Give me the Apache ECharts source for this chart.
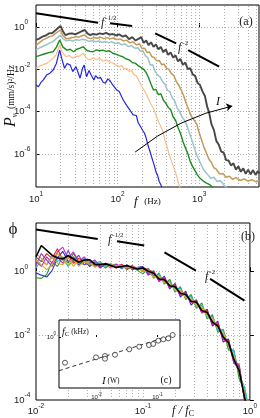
<!DOCTYPE html>
<html>
<head>
<meta charset="utf-8">
<script src="https://cdn.jsdelivr.net/npm/echarts@6/dist/echarts.min.js"></script>
<style>
  html, body { margin: 0; padding: 0; background: #fff; }
  #chart { width: 260px; height: 418px; }
</style>
</head>
<body>
<div id="chart"></div>
<script>
// all values are log10 of the plotted quantity
// panel (a): [log10 f(Hz), log10 P]
var specDark = [[1.00,-0.61],[1.04,-0.55],[1.08,-0.45],[1.12,-0.40],[1.16,-0.30],[1.20,-0.28],[1.24,-0.15],[1.27,-0.05],[1.30,0.05],[1.33,-0.20],[1.36,-0.38],[1.40,-0.32],[1.44,-0.30],[1.48,-0.35],[1.52,-0.28],[1.56,-0.20],[1.60,-0.14],[1.63,-0.30],[1.66,-0.38],[1.70,-0.33],[1.74,-0.36],[1.78,-0.30],[1.82,-0.34],[1.86,-0.28],[1.90,-0.36],[1.94,-0.33],[1.98,-0.40],[2.02,-0.35],[2.06,-0.45],[2.10,-0.40],[2.14,-0.57],[2.18,-0.48],[2.22,-0.64],[2.26,-0.55],[2.29,-0.48],[2.32,-0.75],[2.35,-0.64],[2.38,-0.86],[2.41,-0.72],[2.44,-0.94],[2.47,-0.82],[2.50,-1.06],[2.53,-0.94],[2.56,-1.19],[2.59,-1.06],[2.62,-1.32],[2.65,-1.20],[2.68,-1.44],[2.71,-1.34],[2.74,-1.62],[2.77,-1.51],[2.80,-1.79],[2.83,-1.68],[2.86,-1.99],[2.89,-1.94],[2.92,-2.24],[2.95,-2.31],[2.98,-2.64],[3.01,-2.74],[3.04,-3.04],[3.07,-3.26],[3.10,-3.80],[3.12,-4.01],[3.15,-4.59],[3.18,-4.86],[3.21,-5.38],[3.24,-5.56],[3.27,-5.89],[3.30,-5.93],[3.33,-6.29],[3.36,-6.31],[3.39,-6.54],[3.42,-6.44],[3.45,-6.74],[3.48,-6.58],[3.51,-6.84],[3.54,-6.68],[3.57,-6.94],[3.60,-6.74],[3.63,-6.96],[3.66,-6.76],[3.69,-6.99],[3.72,-6.81],[3.74,-6.92]];
var specTan = [[1.00,-0.85],[1.04,-0.75],[1.08,-0.62],[1.12,-0.55],[1.16,-0.46],[1.20,-0.42],[1.24,-0.30],[1.27,-0.22],[1.30,-0.14],[1.33,-0.40],[1.37,-0.55],[1.41,-0.53],[1.45,-0.50],[1.49,-0.45],[1.53,-0.48],[1.57,-0.40],[1.60,-0.38],[1.63,-0.50],[1.67,-0.55],[1.71,-0.50],[1.75,-0.53],[1.79,-0.48],[1.83,-0.55],[1.87,-0.50],[1.91,-0.56],[1.95,-0.52],[1.99,-0.60],[2.03,-0.56],[2.07,-0.66],[2.11,-0.62],[2.15,-0.75],[2.19,-0.70],[2.23,-0.84],[2.27,-0.80],[2.30,-1.02],[2.33,-1.00],[2.36,-1.20],[2.39,-1.18],[2.42,-1.40],[2.45,-1.45],[2.48,-1.60],[2.51,-1.58],[2.54,-1.78],[2.57,-1.75],[2.60,-1.95],[2.63,-2.00],[2.66,-2.20],[2.69,-2.30],[2.72,-2.58],[2.75,-2.75],[2.78,-2.98],[2.81,-3.25],[2.84,-3.60],[2.87,-3.90],[2.90,-4.20],[2.93,-4.35],[2.97,-4.60],[3.00,-5.00],[3.03,-5.34],[3.06,-5.70],[3.09,-5.97],[3.12,-6.25],[3.15,-6.40],[3.18,-6.65],[3.21,-6.72],[3.25,-6.95],[3.29,-6.92],[3.33,-7.10],[3.37,-7.05],[3.41,-7.20],[3.45,-7.12],[3.50,-7.25],[3.55,-7.18],[3.60,-7.28],[3.65,-7.22],[3.70,-7.32],[3.74,-7.26]];
var specLightBlue = [[1.00,-1.09],[1.04,-1.00],[1.08,-0.92],[1.12,-0.85],[1.16,-0.77],[1.20,-0.70],[1.24,-0.58],[1.27,-0.48],[1.30,-0.38],[1.33,-0.55],[1.37,-0.65],[1.41,-0.61],[1.45,-0.66],[1.49,-0.60],[1.53,-0.63],[1.57,-0.58],[1.61,-0.61],[1.65,-0.68],[1.69,-0.64],[1.73,-0.70],[1.77,-0.66],[1.81,-0.72],[1.85,-0.68],[1.89,-0.74],[1.93,-0.70],[1.97,-0.78],[2.01,-0.74],[2.05,-0.84],[2.09,-0.80],[2.13,-0.92],[2.17,-0.88],[2.21,-1.00],[2.25,-0.98],[2.28,-1.15],[2.31,-1.12],[2.34,-1.35],[2.37,-1.45],[2.40,-1.80],[2.43,-1.78],[2.46,-2.10],[2.49,-2.27],[2.52,-2.35],[2.55,-2.58],[2.58,-2.70],[2.61,-2.98],[2.64,-3.05],[2.67,-3.35],[2.70,-3.50],[2.73,-3.82],[2.76,-4.00],[2.79,-4.25],[2.82,-4.40],[2.85,-4.65],[2.88,-5.00],[2.91,-5.34],[2.94,-5.70],[2.97,-6.05],[3.00,-6.30],[3.03,-6.55],[3.06,-6.78],[3.10,-6.95],[3.14,-7.15],[3.18,-7.10],[3.22,-7.30],[3.26,-7.25],[3.30,-7.45],[3.34,-7.60]];
var specGreen = [[1.00,-1.40],[1.04,-1.35],[1.08,-1.30],[1.13,-1.24],[1.17,-1.20],[1.21,-1.17],[1.25,-0.95],[1.29,-0.61],[1.33,-0.95],[1.38,-1.09],[1.42,-1.05],[1.46,-1.17],[1.50,-1.05],[1.54,-1.00],[1.58,-0.93],[1.62,-1.10],[1.66,-1.15],[1.70,-1.17],[1.74,-1.08],[1.78,-1.12],[1.82,-1.09],[1.86,-1.15],[1.90,-1.12],[1.94,-1.24],[1.98,-1.28],[2.02,-1.35],[2.06,-1.40],[2.10,-1.50],[2.12,-1.44],[2.14,-1.55],[2.18,-1.68],[2.20,-1.60],[2.22,-1.72],[2.26,-1.85],[2.29,-1.92],[2.32,-2.00],[2.35,-2.15],[2.38,-2.40],[2.41,-2.70],[2.44,-2.98],[2.47,-2.95],[2.50,-3.20],[2.53,-3.15],[2.56,-3.45],[2.59,-3.60],[2.62,-3.80],[2.65,-3.90],[2.68,-4.24],[2.71,-4.40],[2.74,-4.75],[2.77,-5.02],[2.80,-5.40],[2.83,-5.70],[2.86,-5.97],[2.89,-6.35],[2.92,-6.60],[2.95,-6.80],[2.98,-7.00],[3.01,-7.15],[3.05,-7.28],[3.09,-7.38],[3.13,-7.45],[3.17,-7.60]];
var specPeach = [[1.00,-1.95],[1.04,-1.85],[1.09,-1.78],[1.13,-1.72],[1.17,-1.60],[1.21,-1.48],[1.25,-1.30],[1.29,-0.85],[1.33,-1.25],[1.37,-1.40],[1.41,-1.35],[1.45,-1.48],[1.49,-1.40],[1.53,-1.38],[1.58,-1.24],[1.62,-1.48],[1.66,-1.56],[1.70,-1.45],[1.74,-1.55],[1.78,-1.48],[1.82,-1.62],[1.86,-1.55],[1.90,-1.64],[1.94,-1.70],[1.98,-1.80],[2.02,-1.87],[2.05,-1.82],[2.08,-1.98],[2.11,-1.95],[2.14,-2.10],[2.17,-2.05],[2.20,-2.25],[2.23,-2.30],[2.26,-2.55],[2.29,-2.75],[2.32,-2.95],[2.35,-3.15],[2.38,-3.40],[2.41,-3.65],[2.44,-3.85],[2.47,-4.15],[2.50,-4.45],[2.53,-4.70],[2.56,-5.00],[2.58,-5.34],[2.60,-5.60],[2.62,-5.85],[2.64,-6.10],[2.66,-6.35],[2.68,-6.55],[2.70,-6.75],[2.72,-7.00],[2.74,-7.30],[2.76,-7.55],[2.78,-7.70]];
var specBlue = [[1.00,-2.74],[1.03,-2.82],[1.06,-2.62],[1.09,-2.50],[1.13,-2.27],[1.17,-2.18],[1.21,-2.03],[1.25,-1.72],[1.29,-1.09],[1.32,-1.55],[1.35,-1.95],[1.38,-1.72],[1.42,-1.80],[1.45,-2.11],[1.49,-1.87],[1.52,-2.20],[1.54,-2.42],[1.57,-1.95],[1.59,-1.80],[1.62,-2.35],[1.65,-2.05],[1.68,-2.30],[1.71,-2.50],[1.73,-2.30],[1.76,-2.42],[1.79,-2.38],[1.82,-2.60],[1.85,-2.66],[1.88,-2.45],[1.91,-2.55],[1.94,-2.74],[1.96,-2.65],[1.99,-2.98],[2.02,-3.05],[2.05,-3.30],[2.07,-3.45],[2.09,-3.38],[2.11,-3.70],[2.13,-3.62],[2.15,-3.92],[2.17,-3.88],[2.19,-4.15],[2.21,-4.24],[2.23,-4.18],[2.25,-4.50],[2.27,-4.63],[2.29,-4.55],[2.31,-4.90],[2.33,-5.02],[2.35,-5.25],[2.37,-5.55],[2.39,-5.80],[2.41,-6.05],[2.43,-6.30],[2.45,-6.55],[2.47,-6.85],[2.49,-7.00],[2.51,-7.30],[2.53,-7.45],[2.55,-7.70]];

// panel (b): log10(f/fc) shared by all curves, log10 phi per curve
var phiX = [-2.00,-1.95,-1.90,-1.85,-1.80,-1.75,-1.70,-1.65,-1.60,-1.55,-1.50,-1.45,-1.40,-1.35,-1.30,-1.25,-1.20,-1.15,-1.10,-1.05,-1.00,-0.95,-0.90,-0.85,-0.80,-0.75,-0.70,-0.65,-0.60,-0.55,-0.50,-0.45,-0.40,-0.35,-0.30,-0.25,-0.20,-0.15,-0.10,-0.05,0.00];
var phiBlue    = [-0.05,-0.12,-0.18,0.02,0.40,0.62,0.30,0.45,0.20,0.35,0.15,0.28,0.10,0.25,0.12,0.22,0.08,0.20,0.05,0.12,0.15,-0.12,0.02,-0.32,-0.15,-0.55,-0.38,-0.80,-0.62,-1.05,-0.88,-1.30,-1.18,-1.70,-1.55,-2.20,-2.10,-2.85,-2.95,-4.00,-4.60];
var phiGreen   = [-0.20,-0.22,-0.10,0.30,0.15,0.45,0.25,0.55,0.30,0.20,0.32,0.15,0.25,0.10,0.22,0.12,0.20,0.05,0.15,0.02,-0.08,0.10,-0.22,-0.05,-0.40,-0.25,-0.65,-0.48,-0.88,-0.72,-1.15,-0.98,-1.48,-1.35,-1.90,-1.80,-2.45,-2.45,-3.35,-3.70,-4.40];
var phiRed     = [0.45,0.30,0.55,0.40,0.70,0.35,0.50,0.25,0.40,0.30,0.18,0.30,0.12,0.25,0.20,0.10,0.22,0.08,0.15,0.10,0.12,0.05,-0.02,-0.28,-0.20,-0.50,-0.42,-0.72,-0.66,-0.95,-0.92,-1.25,-1.22,-1.62,-1.60,-2.10,-2.15,-2.78,-2.90,-4.05,-4.50];
var phiCyan    = [0.10,0.35,0.20,0.50,0.30,0.40,0.15,0.35,0.25,0.40,0.20,0.25,0.30,0.15,0.20,0.22,0.10,0.18,0.08,0.12,-0.02,0.08,-0.20,-0.10,-0.38,-0.30,-0.62,-0.52,-0.85,-0.78,-1.12,-1.05,-1.42,-1.40,-1.85,-1.82,-2.35,-2.50,-3.20,-3.60,-4.40];
var phiMagenta = [0.30,0.15,0.45,0.25,0.60,0.75,0.40,0.60,0.30,0.45,0.28,0.18,0.25,0.20,0.10,0.22,0.15,0.12,0.18,0.05,0.10,-0.08,-0.05,-0.30,-0.22,-0.52,-0.45,-0.75,-0.70,-0.98,-0.95,-1.28,-1.25,-1.65,-1.65,-2.12,-2.22,-2.85,-3.05,-3.95,-4.50];
var phiOrange  = [0.55,0.40,0.20,0.45,0.25,0.20,0.45,0.15,0.35,0.28,0.30,0.12,0.22,0.18,0.25,0.10,0.18,0.15,0.08,0.10,0.00,0.02,-0.15,-0.18,-0.35,-0.36,-0.58,-0.58,-0.82,-0.83,-1.08,-1.10,-1.38,-1.45,-1.78,-1.90,-2.30,-2.62,-3.10,-3.80,-4.50];
var phiPurple  = [0.20,0.55,0.35,0.15,0.45,0.25,0.65,0.30,0.50,0.20,0.25,0.35,0.15,0.20,0.15,0.18,0.12,0.16,0.10,0.06,0.08,-0.05,-0.12,-0.22,-0.30,-0.44,-0.50,-0.68,-0.74,-0.92,-1.00,-1.20,-1.30,-1.55,-1.70,-2.00,-2.20,-2.70,-3.00,-3.90,-4.50];
var phiYellow  = [0.35,0.20,0.05,0.20,0.55,0.35,0.20,0.40,0.15,0.30,0.22,0.25,0.18,0.22,0.12,0.18,0.16,0.10,0.14,0.08,0.02,0.00,-0.18,-0.14,-0.34,-0.40,-0.56,-0.62,-0.80,-0.88,-1.05,-1.15,-1.36,-1.50,-1.76,-1.95,-2.28,-2.66,-3.18,-3.85,-4.50];
var phiBlack   = [0.45,0.80,0.65,0.50,0.42,0.38,0.49,0.38,0.28,0.35,0.36,0.22,0.20,0.23,0.18,0.12,0.15,0.18,0.12,0.07,0.10,0.00,-0.06,-0.24,-0.26,-0.45,-0.48,-0.68,-0.72,-0.93,-0.96,-1.22,-1.28,-1.58,-1.70,-2.04,-2.22,-2.74,-3.10,-3.92,-4.50];

// inset (c): log10 I (W), log10 fc (kHz)
var insetI  = [-2.517,-2.008,-1.861,-1.861,-1.697,-1.463,-1.299,-1.140,-1.069,-0.987,-0.905,-0.823,-0.751];
var insetFc = [-0.857,-0.677,-0.633,-0.723,-0.590,-0.410,-0.323,-0.267,-0.233,-0.123,-0.077,-0.043,0.067];
var insetFit = [[-2.615,-1.123],[-0.751,0.067]];

// guide lines (log-log coordinates)
var slopeA1 = [[[1.0,0.648],[1.761,0.203]],[[1.908,0.175],[2.178,0.047]]];
var slopeA2 = [[[2.46,-0.298],[2.718,-0.771]],[[2.865,-1.087],[3.245,-1.877]]];
var slopeB1 = [[[-2.0,1.295],[-1.423,1.006]],[[-1.243,0.93],[-0.988,0.80]]];
var slopeB2 = [[[-0.799,0.59],[-0.505,0.02]],[[-0.372,-0.236],[-0.051,-0.91]]];
var arrowA = [[2.215,-5.91],[3.405,-3.735]];

var ticksAx = [1, 2, 3], ticksAy = [-6, -4, -2, 0];
var ticksBx = [-2, -1, 0], ticksBy = [-4, -2, 0];
var ticksCx = [-2, -1], ticksCy = [0];
var minorMult = [1, 2, 3, 4, 5, 6, 7, 8, 9];

var sans = 'Liberation Sans, Arial, sans-serif';
var serif = 'Liberation Serif, Times New Roman, serif';

var chart = echarts.init(document.getElementById('chart'));

var axA = {xmin: 1, xmax: 3.733, ymin: -7.56, ymax: 1.04};
var axB = {xmin: -2, xmax: 0, ymin: -4, ymax: 1.5};

function gridLines(ax, decades, hlines) {
  var out = [];
  decades.forEach(function (d) {
    minorMult.forEach(function (k) {
      var v = d + Math.log10(k);
      if (v > ax.xmin + 1e-6 && v < ax.xmax - 1e-6) out.push({coords: [[v, ax.ymin], [v, ax.ymax]]});
    });
  });
  hlines.forEach(function (h) { out.push({coords: [[ax.xmin, h], [ax.xmax, h]]}); });
  return out;
}

function powRich(b, s, pad) {
  return {
    b: {fontSize: b, fontFamily: sans, color: '#222'},
    s: {fontSize: s, fontFamily: sans, color: '#222', padding: [0, 0, pad, 0]}
  };
}
function powFmt(v) { return '{b|10}{s|' + Math.round(v) + '}'; }

function xAx(gi, ax, ticks, margin, rich) {
  return {
    type: 'value', gridIndex: gi, min: ax.xmin, max: ax.xmax,
    axisLine: {show: false}, splitLine: {show: false},
    axisTick: {inside: true, length: 4, customValues: ticks, lineStyle: {color: '#000'}},
    axisLabel: {customValues: ticks, formatter: powFmt, rich: rich, margin: margin}
  };
}
function yAx(gi, ax, ticks, margin, rich) {
  return {
    type: 'value', gridIndex: gi, min: ax.ymin, max: ax.ymax,
    axisLine: {show: false}, splitLine: {show: false},
    axisTick: {inside: true, length: 4, customValues: ticks, lineStyle: {color: '#000'}},
    axisLabel: {customValues: ticks, formatter: powFmt, rich: rich, margin: margin, align: 'left'}
  };
}

function curve(data, color, xi, width) {
  return {
    type: 'line', xAxisIndex: xi, yAxisIndex: xi, data: data, symbol: 'none',
    lineStyle: {color: color, width: width || 1}, z: 2, silent: true
  };
}
function phiCurve(vals, color, width) {
  return curve(phiX.map(function (x, i) { return [x, vals[i]]; }), color, 1, width);
}
function guide(segs, xi) {
  return {
    type: 'lines', coordinateSystem: 'cartesian2d', xAxisIndex: xi, yAxisIndex: xi,
    data: segs.map(function (s) { return {coords: s}; }),
    lineStyle: {color: '#000', width: 2, opacity: 1}, z: 3, silent: true
  };
}
function dotted(data, xi) {
  return {
    type: 'lines', coordinateSystem: 'cartesian2d', xAxisIndex: xi, yAxisIndex: xi,
    data: data, lineStyle: {color: '#9a9a9a', width: 0.8, type: [1, 2], opacity: 1}, z: 1, silent: true
  };
}

function txt(x, y, text, rich, align, rot) {
  return {
    type: 'text', x: x, y: y, rotation: rot || 0, z: 20, silent: true,
    style: {text: text, rich: rich, align: align || 'left', verticalAlign: 'middle', fill: '#111'}
  };
}
var slopeRich = {
  f: {fontSize: 12, fontFamily: serif, fontStyle: 'italic', fill: '#222'},
  s: {fontSize: 7, fontFamily: serif, fill: '#222', padding: [0, 0, 9, 1]}
};
var tagRich = {t: {fontSize: 12, fontFamily: serif, fill: '#222'}};

var option = {
  animation: false,
  backgroundColor: '#fff',
  grid: [
    {left: 36, top: 5, width: 223, height: 182, show: true, borderColor: '#000', borderWidth: 1},
    {left: 36, top: 223, width: 223, height: 177, show: true, borderColor: '#000', borderWidth: 1},
    {left: 59, top: 320, width: 121, height: 68, show: false}
  ],
  xAxis: [
    xAx(0, axA, ticksAx, 4, powRich(9.5, 6.5, 9)),
    xAx(1, axB, ticksBx, 3, powRich(9.5, 6.5, 9)),
    {
      type: 'value', gridIndex: 2, min: -2.615, max: -0.631, z: 10,
      axisLine: {show: false}, splitLine: {show: false},
      axisTick: {inside: true, length: 2, customValues: ticksCx, lineStyle: {color: '#000'}},
      axisLabel: {customValues: ticksCx, formatter: powFmt, rich: powRich(6, 4.5, 6), margin: 4}
    }
  ],
  yAxis: [
    yAx(0, axA, ticksAy, 22, powRich(9.5, 6.5, 9)),
    yAx(1, axB, ticksBy, 22, powRich(9.5, 6.5, 9)),
    {
      type: 'value', gridIndex: 2, min: -1.7, max: 0.567, z: 10,
      axisLine: {show: false}, splitLine: {show: false},
      axisTick: {inside: true, length: 2, customValues: ticksCy, lineStyle: {color: '#000'}},
      axisLabel: {customValues: ticksCy, formatter: powFmt, rich: powRich(6, 4.5, 6), margin: 3}
    }
  ],
  series: [
    dotted(gridLines(axA, [1, 2, 3], [0, -2, -4, -6]), 0),
    dotted(gridLines(axB, [-2, -1], [0, -2]), 1),

    curve(specDark, '#474747', 0, 1.9),
    curve(specTan, '#c49a58', 0, 1.5),
    curve(specLightBlue, '#9dc3ca', 0, 1.5),
    curve(specGreen, '#1c8c1c', 0, 1.4),
    curve(specPeach, '#f6bf8a', 0, 1.2),
    curve(specBlue, '#2525e0', 0, 1.2),
    guide(slopeA1, 0),
    guide(slopeA2, 0),
    {
      type: 'lines', coordinateSystem: 'cartesian2d', xAxisIndex: 0, yAxisIndex: 0,
      data: [{coords: arrowA}], symbol: ['none', 'arrow'], symbolSize: 6,
      lineStyle: {color: '#000', width: 1, opacity: 1, curveness: 0.12}, z: 3, silent: true
    },

    phiCurve(phiBlue, '#2b2bd8', 1.1),
    phiCurve(phiGreen, '#2a9d2a', 1.1),
    phiCurve(phiRed, '#e02424', 1.1),
    phiCurve(phiCyan, '#22b8c8', 1.1),
    phiCurve(phiMagenta, '#d81ec0', 1.1),
    phiCurve(phiOrange, '#f29a2e', 1.1),
    phiCurve(phiPurple, '#7a3fc0', 1.1),
    phiCurve(phiYellow, '#c9b21c', 1.1),
    phiCurve(phiBlack, '#000', 1.6),
    guide(slopeB1, 1),
    guide(slopeB2, 1),

    {
      type: 'line', xAxisIndex: 2, yAxisIndex: 2, data: insetFit, symbol: 'none', z: 10,
      lineStyle: {color: '#000', width: 0.8, type: [4, 3]}, silent: true
    },
    {
      type: 'scatter', xAxisIndex: 2, yAxisIndex: 2, z: 11, silent: true,
      data: insetI.map(function (x, i) { return [x, insetFc[i]]; }),
      symbol: 'circle', symbolSize: 5,
      itemStyle: {color: '#fff', borderColor: '#000', borderWidth: 0.8}
    }
  ],
  graphic: [
    {type: 'rect', shape: {x: 59, y: 320, width: 121, height: 68}, z: 4, silent: true,
     style: {fill: '#fff', stroke: '#000', lineWidth: 1}},
    txt(101, 23, '{f|f}{s|-1/2}', slopeRich),
    txt(178, 48, '{f|f}{s|-2}', slopeRich),
    txt(108, 240, '{f|f}{s|-1/2}', slopeRich),
    txt(205, 277, '{f|f}{s|-2}', slopeRich),
    txt(246, 22, '{t|(a)}', tagRich, 'center'),
    txt(248, 237, '{t|(b)}', tagRich, 'center'),
    txt(216, 102, '{i|I}', {i: {fontSize: 12, fontFamily: serif, fontStyle: 'italic', fill: '#111'}}),
    txt(11, 96, '{p|P}{v|ν}{u|  (mm/s)²/Hz}', {
      p: {fontSize: 16, fontFamily: serif, fontStyle: 'italic', fill: '#111'},
      v: {fontSize: 8, fontFamily: serif, fontStyle: 'italic', fill: '#111', padding: [8, 0, 0, 0]},
      u: {fontSize: 9.5, fontFamily: serif, fill: '#111'}
    }, 'center', Math.PI / 2),
    txt(134, 202, '{f|f}{u|   (Hz)}', {
      f: {fontSize: 13, fontFamily: serif, fontStyle: 'italic', fill: '#111'},
      u: {fontSize: 9, fontFamily: serif, fill: '#111'}
    }),
    txt(13, 230, '{p|ϕ}', {p: {fontSize: 17, fontFamily: serif, fill: '#111'}}, 'center'),
    txt(172, 411, '{f|f} {n|/} {f|f}{c|C}', {
      f: {fontSize: 12, fontFamily: serif, fontStyle: 'italic', fill: '#111'},
      n: {fontSize: 12, fontFamily: serif, fontStyle: 'italic', fill: '#111'},
      c: {fontSize: 8, fontFamily: serif, fill: '#111', padding: [6, 0, 0, 0]}
    }),
    txt(62, 332, '{f|f}{c|C}{u| (kHz)}', {
      f: {fontSize: 10, fontFamily: serif, fontStyle: 'italic', fill: '#111'},
      c: {fontSize: 7, fontFamily: serif, fill: '#111', padding: [5, 0, 0, 0]},
      u: {fontSize: 7.5, fontFamily: serif, fill: '#111'}
    }),
    txt(102, 381, '{f|I}{u| (W)}', {
      f: {fontSize: 11, fontFamily: serif, fontStyle: 'italic', fill: '#111'},
      u: {fontSize: 7.5, fontFamily: serif, fill: '#111'}
    }),
    txt(166, 380, '{t|(c)}', {t: {fontSize: 10, fontFamily: serif, fill: '#111'}}, 'center')
  ]
};

chart.setOption(option);
</script>
</body>
</html>
